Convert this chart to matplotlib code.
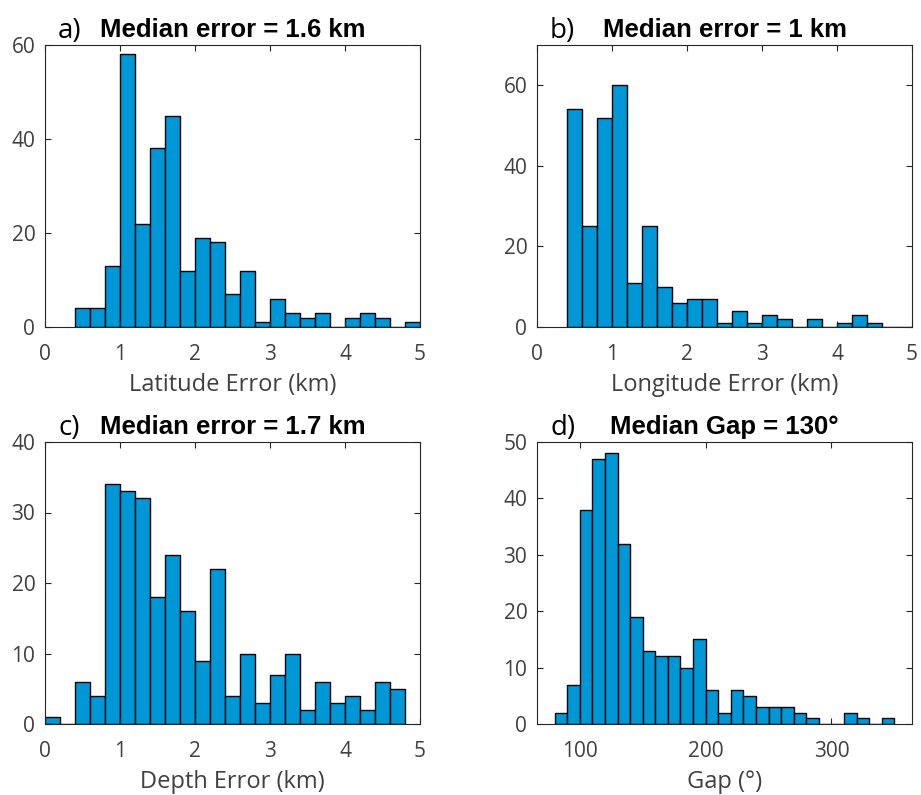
import numpy as np
import matplotlib
matplotlib.use("Agg")
import matplotlib.pyplot as plt

# ---- data (counts) ----
lat_edges_start, lat_bin = 0.4, 0.2
lat_counts = [4, 4, 13, 58, 22, 38, 45, 12, 19, 18, 7, 12, 1, 6, 3, 2, 3, 0, 2, 3, 2, 0, 1]

lon_edges_start, lon_bin = 0.4, 0.2
lon_counts = [54, 25, 52, 60, 11, 25, 10, 6, 7, 7, 1, 4, 1, 3, 2, 0, 2, 0, 1, 3, 1, 0, 0]

dep_edges_start, dep_bin = 0.0, 0.2
dep_counts = [1, 0, 6, 4, 34, 33, 32, 18, 24, 16, 9, 22, 4, 10, 3, 7, 10, 2, 6, 3, 4, 2, 6, 5]

gap_edges_start, gap_bin = 80, 10
gap_counts = [2, 7, 38, 47, 48, 32, 19, 13, 12, 12, 10, 15, 6, 2, 6, 5, 3, 3, 3, 2, 1, 0, 0, 2, 1, 0, 1]

panel_letters = ["a)", "b)", "c)", "d)"]
titles = ["Median error = 1.6 km", "Median error = 1 km",
          "Median error = 1.7 km", "Median Gap = 130°"]
xlabels = ["Latitude Error (km)", "Longitude Error (km)", "Depth Error (km)", "Gap (°)"]
xlims = [(0, 5), (0, 5), (0, 5), (66, 364)]
ylims = [(0, 60), (0, 70), (0, 40), (0, 50)]
xticks = [[0, 1, 2, 3, 4, 5], [0, 1, 2, 3, 4, 5], [0, 1, 2, 3, 4, 5], [100, 200, 300]]
yticks = [[0, 20, 40, 60], [0, 20, 40, 60], [0, 10, 20, 30, 40], [0, 10, 20, 30, 40, 50]]

hists = [(lat_edges_start, lat_bin, lat_counts),
         (lon_edges_start, lon_bin, lon_counts),
         (dep_edges_start, dep_bin, dep_counts),
         (gap_edges_start, gap_bin, gap_counts)]

W, H = 921, 795
fig = plt.figure(figsize=(W / 100, H / 100), dpi=100)

# axes rectangles in pixels: left, top, right, bottom
rects = [(45, 45, 420, 327), (537, 45, 912, 327),
         (45, 442, 420, 724), (537, 442, 912, 724)]

bar_color = "#0097d7"
axis_color = "#262626"
label_font = ["Open Sans", "DejaVu Sans"]
title_font = ["Liberation Sans", "DejaVu Sans"]

for i, (l, t, r, b) in enumerate(rects):
    ax = fig.add_axes([l / W, (H - b) / H, (r - l) / W, (b - t) / H])
    start, width, counts = hists[i]
    counts = np.asarray(counts, dtype=float)
    lefts = start + width * np.arange(len(counts))
    ax.bar(lefts, counts, width=width, align="edge", color=bar_color,
           edgecolor="black", linewidth=1.0)
    ax.set_xlim(*xlims[i])
    ax.set_ylim(*ylims[i])
    ax.set_xticks(xticks[i])
    ax.set_yticks(yticks[i])
    ax.tick_params(direction="in", top=True, right=True, length=4, width=0.8,
                   colors=axis_color, labelsize=15)
    ax.tick_params(axis="y", pad=7)
    ax.tick_params(axis="x", pad=12)
    for lab in ax.get_xticklabels() + ax.get_yticklabels():
        lab.set_family(label_font)
        lab.set_color("#404040")
    for sp in ax.spines.values():
        sp.set_color(axis_color)
        sp.set_linewidth(0.8)
    ax.set_xlabel(xlabels[i], fontsize=17, family=label_font, color="#404040", labelpad=6)
    ax.set_title(titles[i], fontsize=18.5, fontweight="bold", family=title_font,
                 color="black", pad=6)
    # panel letter
    fig.text((l + 13) / W, (H - (t - 7)) / H, panel_letters[i], fontsize=20,
             family=label_font, color="black", ha="left", va="baseline")

fig.savefig("out.png", dpi=100)
